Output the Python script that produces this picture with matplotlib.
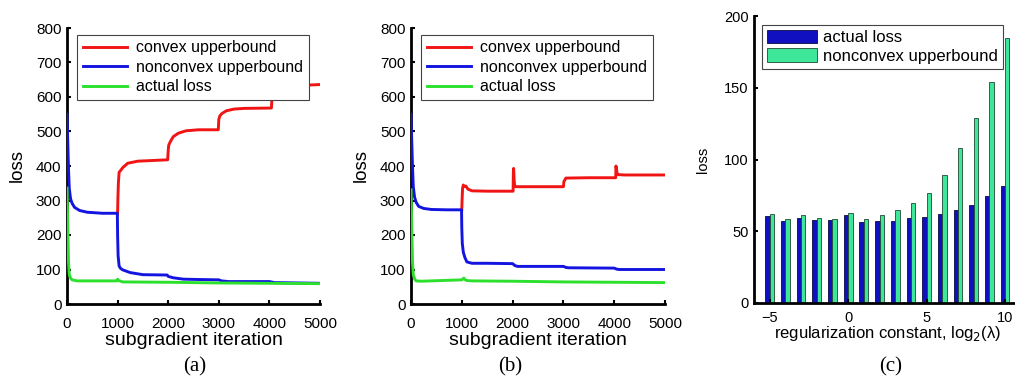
import matplotlib
matplotlib.use("Agg")
import numpy as np
import matplotlib.pyplot as plt

plt.rcParams["font.family"] = ["Liberation Sans", "DejaVu Sans"]

# (a) convergence, lambda small
a_red_x = [1000, 1005, 1015, 1030, 1060, 1100, 1200, 1400, 1700, 1990, 2000, 2010, 2040, 2100, 2200,
           2350, 2600, 2990, 3000, 3020, 3060, 3150, 3300, 3500, 4040, 4050, 4100, 4200, 4500, 5000]
a_red_y = [263, 300, 350, 382, 387, 395, 408, 414, 416, 418, 445, 460, 470, 485, 495,
           502, 505, 505, 535, 545, 552, 560, 565, 567, 568, 595, 615, 625, 633, 636]
a_blue_x = [0, 15, 30, 45, 70, 100, 150, 250, 400, 700, 995, 1000, 1010, 1030, 1060, 1100, 1250,
            1500, 1980, 2000, 2100, 2300, 2600, 3000, 3050, 3200, 4000, 4100, 5000]
a_blue_y = [550, 470, 390, 335, 305, 292, 280, 271, 266, 263, 263, 200, 140, 110, 103, 99, 91,
            85, 84, 80, 76, 72, 71, 70, 67, 65, 65, 62, 60]
a_green_x = [0, 15, 30, 45, 70, 100, 200, 600, 990, 1000, 1020, 1100, 2000, 3000, 4000, 5000]
a_green_y = [336, 230, 120, 85, 75, 70, 67, 67, 67, 72, 68, 64, 63, 61, 60, 59]

# (b) convergence, lambda large
b_red_x = [1000, 1005, 1015, 1030, 1050, 1080, 1120, 1200, 1500, 2010, 2015, 2020, 2030, 2040,
           2060, 2100, 3000, 3010, 3050, 3500, 4030, 4035, 4045, 4060, 4080, 4200, 5000]
b_red_y = [273, 300, 335, 345, 340, 342, 333, 328, 327, 327, 380, 393, 360, 342,
           340, 340, 340, 355, 365, 366, 366, 400, 390, 377, 375, 374, 374]
b_blue_x = [0, 15, 30, 45, 70, 100, 150, 250, 400, 700, 995, 1000, 1010, 1030, 1060, 1100, 1200,
            1500, 2000, 2050, 2100, 3000, 3050, 3100, 4000, 4050, 4100, 5000]
b_blue_y = [550, 470, 395, 340, 310, 295, 283, 277, 274, 273, 273, 220, 175, 150, 135, 122, 118,
            118, 117, 111, 109, 109, 106, 105, 104, 101, 100, 100]
b_green_x = [0, 15, 30, 45, 70, 100, 200, 600, 1000, 1040, 1060, 1100, 1200, 2000, 3000, 4000, 5000]
b_green_y = [331, 225, 120, 85, 73, 67, 66, 68, 70, 75, 71, 68, 67, 66, 64, 63, 62]

# (c) final loss vs regularization
log_lambda = [-5, -4, -3, -2, -1, 0, 1, 2, 3, 4, 5, 6, 7, 8, 9, 10]
actual_loss = [60.5, 57, 59, 58, 57.7, 61.5, 56.3, 57, 57, 59, 60, 62, 65, 68.6, 74.4, 81.4]
nonconvex_ub = [62, 58.6, 61, 59.3, 58.8, 62.8, 58.6, 61, 64.6, 70, 77, 89.5, 108, 129, 154, 185]

RED = "#f01414"
BLUE = "#1414e0"
GREEN = "#2ee02e"
W, H = 1015, 379

fig = plt.figure(figsize=(W / 100, H / 100), dpi=100)


def style_axes(ax, tick_size, xpad, ypad):
    for s in ["top", "right"]:
        ax.spines[s].set_visible(False)
    for s in ["left", "bottom"]:
        ax.spines[s].set_linewidth(2.0)
    ax.tick_params(direction="in", length=3, width=1.5, labelsize=tick_size)
    ax.tick_params(axis="x", pad=xpad)
    ax.tick_params(axis="y", pad=ypad)


def line_panel(rect, red, blue, green):
    l, r, t, b = rect
    ax = fig.add_axes([l / W, (H - b) / H, (r - l) / W, (b - t) / H])
    ax.plot(*red, color=RED, lw=2.1, label="convex upperbound", zorder=3)
    ax.plot(*blue, color=BLUE, lw=2.1, label="nonconvex upperbound", zorder=3)
    ax.plot(*green, color=GREEN, lw=2.1, label="actual loss", zorder=3)
    ax.set_xlim(0, 5000)
    ax.set_ylim(0, 800)
    ax.set_xticks([0, 1000, 2000, 3000, 4000, 5000])
    ax.set_yticks(range(0, 801, 100))
    style_axes(ax, 11, 9, 4)
    ax.set_xlabel("subgradient iteration", fontsize=14, labelpad=1)
    ax.set_ylabel("loss", fontsize=13.5, labelpad=7)
    leg = ax.legend(loc="upper left", bbox_to_anchor=(0.04, 0.975), fontsize=11.5,
                    handlelength=2.8, handletextpad=0.55, borderpad=0.35,
                    labelspacing=0.28, fancybox=False, framealpha=1,
                    edgecolor="#444444", borderaxespad=0)
    leg.get_frame().set_linewidth(0.8)
    leg.set_zorder(5)
    return ax


line_panel((67, 320, 28, 304), (a_red_x, a_red_y), (a_blue_x, a_blue_y), (a_green_x, a_green_y))
line_panel((411, 665, 28, 304), (b_red_x, b_red_y), (b_blue_x, b_blue_y), (b_green_x, b_green_y))

# panel (c): axes runs past the right edge, like the cropped original
l, t, b = 754, 16, 303
unit = 15.69
axc = fig.add_axes([l / W, (H - b) / H, 17 * unit / W, (b - t) / H])
x = np.array(log_lambda)
axc.bar(x - 0.14, actual_loss, width=0.28, color="#1010c0", edgecolor="#0a0a40", lw=0.6,
        label="actual loss")
axc.bar(x + 0.14, nonconvex_ub, width=0.28, color="#3ee69a", edgecolor="#1e4a32", lw=0.6,
        label="nonconvex upperbound")
axc.set_xlim(-6, 11)
axc.set_ylim(0, 200)
axc.set_xticks([-5, 0, 5, 10])
axc.set_xticklabels(["\u22125", "0", "5", "10"])
axc.set_yticks([0, 50, 100, 150, 200])
style_axes(axc, 10.5, 6, 4)
axc.set_xlabel("regularization constant, log$_2$(\u03bb)", fontsize=12, labelpad=-1)
axc.set_ylabel("loss", fontsize=10.5, labelpad=10)
legc = axc.legend(loc="upper left", bbox_to_anchor=(8 / (17 * unit), 0.97), fontsize=12,
                  handlelength=3.0, handleheight=0.85, handletextpad=0.35, borderpad=0.3,
                  labelspacing=0.2, fancybox=False, framealpha=1,
                  edgecolor="#444444", borderaxespad=0)
legc.get_frame().set_linewidth(0.8)

for label, cx in [("(a)", 195), ("(b)", 510), ("(c)", 891)]:
    fig.text(cx / W, 1 - 367 / H, label, family="Liberation Serif", fontsize=15,
             ha="center", va="center")

fig.savefig("out.png", dpi=100)
